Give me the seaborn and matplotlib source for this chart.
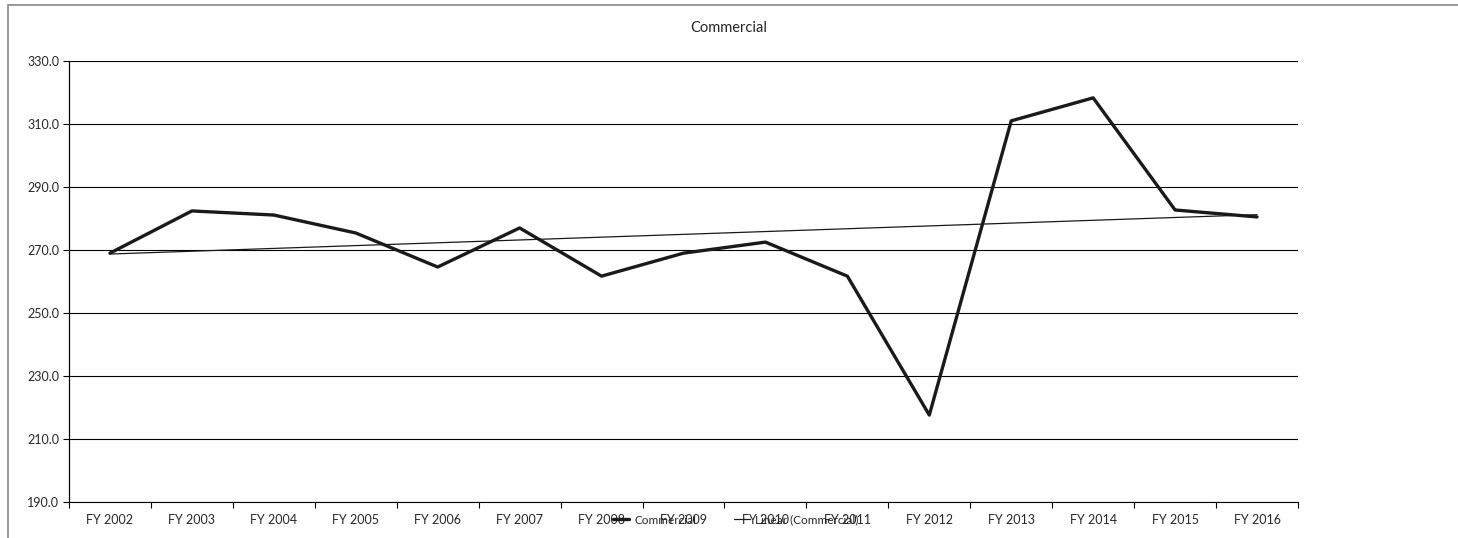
import numpy as np
import pandas as pd
import matplotlib
matplotlib.use("Agg")
import matplotlib.pyplot as plt
import seaborn as sns
from matplotlib.patches import Rectangle

categories = ["FY 2002", "FY 2003", "FY 2004", "FY 2005", "FY 2006", "FY 2007", "FY 2008",
              "FY 2009", "FY 2010", "FY 2011", "FY 2012", "FY 2013", "FY 2014", "FY 2015", "FY 2016"]
commercial = [269.0, 282.4, 281.1, 275.4, 264.6, 277.0, 261.7,
              269.0, 272.5, 261.7, 217.6, 311.0, 318.3, 282.7, 280.5]
y_ticks = [190, 210, 230, 250, 270, 290, 310, 330]

sns.set_theme(style="white")
plt.rcParams['font.family'] = ['Lato', 'DejaVu Sans']

fig = plt.figure(figsize=(14.58, 5.38), dpi=100)
ax = fig.add_axes([69/1458, 1-502/538, (1298-69)/1458, (502-61)/538])

idx = np.arange(len(categories))
df = pd.DataFrame({"pos": idx, "val": commercial})
coef = np.polyfit(idx, commercial, 1)
df["trend"] = np.polyval(coef, idx)

sns.lineplot(data=df, x="pos", y="val", ax=ax, color="#1a1a1a", linewidth=2.4, label="Commercial")
sns.lineplot(data=df, x="pos", y="trend", ax=ax, color="#1a1a1a", linewidth=0.9, label="Linear (Commercial)")

ax.set_xlim(-0.5, len(categories) - 0.5)
ax.set_ylim(190, 330)
ax.set_yticks(y_ticks)
ax.set_yticklabels([f"{v:.1f}" for v in y_ticks], fontsize=9)
ax.set_xticks(idx)
ax.set_xticklabels(categories, fontsize=9)
ax.set_xticks(np.arange(-0.5, len(categories), 1), minor=True)
ax.tick_params(axis="x", which="major", length=0, pad=9)
ax.tick_params(axis="x", which="minor", length=4, width=0.8, color="black", direction="out", bottom=True)
ax.tick_params(axis="y", length=4, width=0.8, color="black", direction="out", left=True, pad=3)
ax.set_xlabel("")
ax.set_ylabel("")
ax.grid(axis="y", color="black", linewidth=0.8)
ax.set_axisbelow(True)
for s in ["top", "right"]:
    ax.spines[s].set_visible(False)
ax.spines["left"].set_color("black")
ax.spines["left"].set_linewidth(0.9)
ax.spines["bottom"].set_color("black")
ax.spines["bottom"].set_linewidth(0.8)

ax.get_legend().remove()
handles, labels = ax.get_legend_handles_labels()
fig.legend(handles, labels, loc="center", bbox_to_anchor=(736/1458, 1-520/538), ncol=2,
           frameon=False, fontsize=8.5, handlelength=1.3, columnspacing=3.2, handletextpad=0.5)

fig.text(0.5, 1-28/538, "Commercial", ha="center", va="center", fontsize=10.5)

fig.patches.append(Rectangle((8/1458, -0.02), 1.1, 1-5/538 + 0.02, transform=fig.transFigure,
                             fill=False, edgecolor="#888888", linewidth=1.2))

fig.savefig("out.png", dpi=100)
